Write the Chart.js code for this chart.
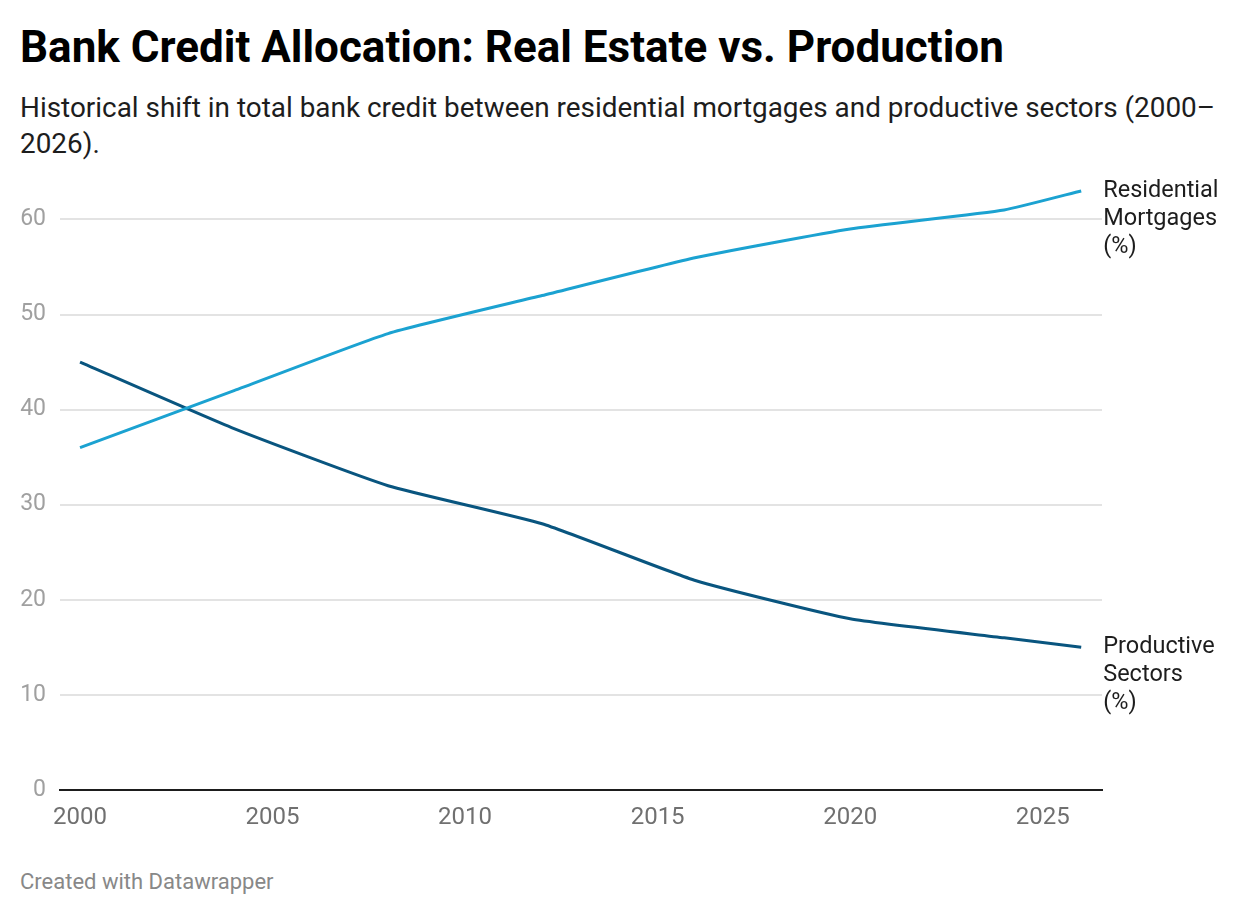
<!DOCTYPE html>
<html>
<head>
<meta charset="utf-8">
<script src="https://cdn.jsdelivr.net/npm/chart.js@4.4.1/dist/chart.umd.min.js"></script>
<style>
  html, body { margin: 0; padding: 0; background: #fff; }
  body { width: 1240px; height: 916px; position: relative; overflow: hidden; font-family: Roboto, sans-serif; }
  #title { position: absolute; left: 20px; top: 22px; font-size: 44px; line-height: 50px; font-weight: 700; color: #000; white-space: nowrap; }
  #subtitle { position: absolute; left: 20px; top: 90px; width: 1205px; font-size: 27.9px; line-height: 36px; color: #1d1d1d; }
  #footer { position: absolute; left: 20px; top: 869px; font-size: 22px; line-height: 26px; color: #888; }
  #wrap { position: absolute; left: 0; top: 170px; width: 1240px; height: 680px; }
</style>
</head>
<body>
<div id="title">Bank Credit Allocation: Real Estate vs. Production</div>
<div id="subtitle">Historical shift in total bank credit between residential mortgages and productive sectors (2000–2026).</div>
<div id="wrap"><canvas id="creditChart"></canvas></div>
<div id="footer">Created with Datawrapper</div>
<script>
var years = [2000, 2004, 2008, 2012, 2016, 2020, 2024, 2026];
var mortgages = [36, 42, 48, 52, 56, 59, 61, 63];
var productive = [45, 38, 32, 28, 22, 18, 16, 15];
var xTicks = [2000, 2005, 2010, 2015, 2020, 2025];
var yTicks = [0, 10, 20, 30, 40, 50, 60];
var seriesLabels = [['Residential', 'Mortgages', '(%)'], ['Productive', 'Sectors', '(%)']];

var ctx = document.getElementById('creditChart').getContext('2d');

function toPoints(vals) {
    var pts = [];
    for (let i = 0; i < years.length; i++) {
        pts.push({ x: years[i], y: vals[i] });
    }
    return pts;
}

// labels next to the last point of each line
var endLabels = {
    id: 'endLabels',
    afterDatasetsDraw: function (chart) {
        var c = chart.ctx;
        c.save();
        c.font = '23.5px Roboto';
        c.fillStyle = '#1d1d1d';
        c.textBaseline = 'middle';
        c.textAlign = 'left';
        chart.data.datasets.forEach(function (ds, i) {
            var meta = chart.getDatasetMeta(i);
            var pt = meta.data[meta.data.length - 1];
            seriesLabels[i].forEach(function (line, j) {
                c.fillText(line, pt.x + 22, pt.y + j * 28);
            });
        });
        c.restore();
    }
};

var creditChart = new Chart(ctx, {
    type: 'line',
    data: {
        datasets: [
            {
                label: 'Residential Mortgages (%)',
                data: toPoints(mortgages),
                borderColor: '#1ba2d1',
                borderWidth: 3,
                pointRadius: 0,
                tension: 0.15,
                fill: false
            },
            {
                label: 'Productive Sectors (%)',
                data: toPoints(productive),
                borderColor: '#09557f',
                borderWidth: 3,
                pointRadius: 0,
                tension: 0.15,
                fill: false
            }
        ]
    },
    options: {
        responsive: true,
        maintainAspectRatio: false,
        animation: false,
        layout: {
            padding: { left: 0, right: 138, top: 0, bottom: 0 }
        },
        scales: {
            x: {
                type: 'linear',
                min: 1999.48,
                max: 2026.54,
                afterBuildTicks: function (scale) {
                    scale.ticks = xTicks.map(function (v) { return { value: v }; });
                },
                afterFit: function (scale) { scale.height = 60; },
                ticks: {
                    color: '#707070',
                    padding: 6,
                    maxRotation: 0,
                    autoSkip: false,
                    font: { family: 'Roboto', size: 24 },
                    callback: function (v) { return String(v); }
                },
                grid: { display: false },
                border: { display: true, color: '#1d1d1d', width: 2 }
            },
            y: {
                min: 0,
                max: 65.2,
                afterBuildTicks: function (scale) {
                    scale.ticks = yTicks.map(function (v) { return { value: v }; });
                },
                afterFit: function (scale) {
                    scale.width = 60;
                    scale.paddingTop = 0;
                    scale.paddingBottom = 0;
                },
                ticks: {
                    color: '#a0a0a0',
                    padding: 14,
                    font: { family: 'Roboto', size: 23 }
                },
                grid: {
                    color: function (c) { return c.tick.value === 0 ? 'rgba(0,0,0,0)' : '#e3e3e3'; },
                    lineWidth: 2,
                    drawTicks: false
                },
                border: { display: false }
            }
        },
        plugins: {
            legend: { display: false },
            tooltip: { enabled: false }
        }
    },
    plugins: [endLabels]
});
</script>
</body>
</html>
